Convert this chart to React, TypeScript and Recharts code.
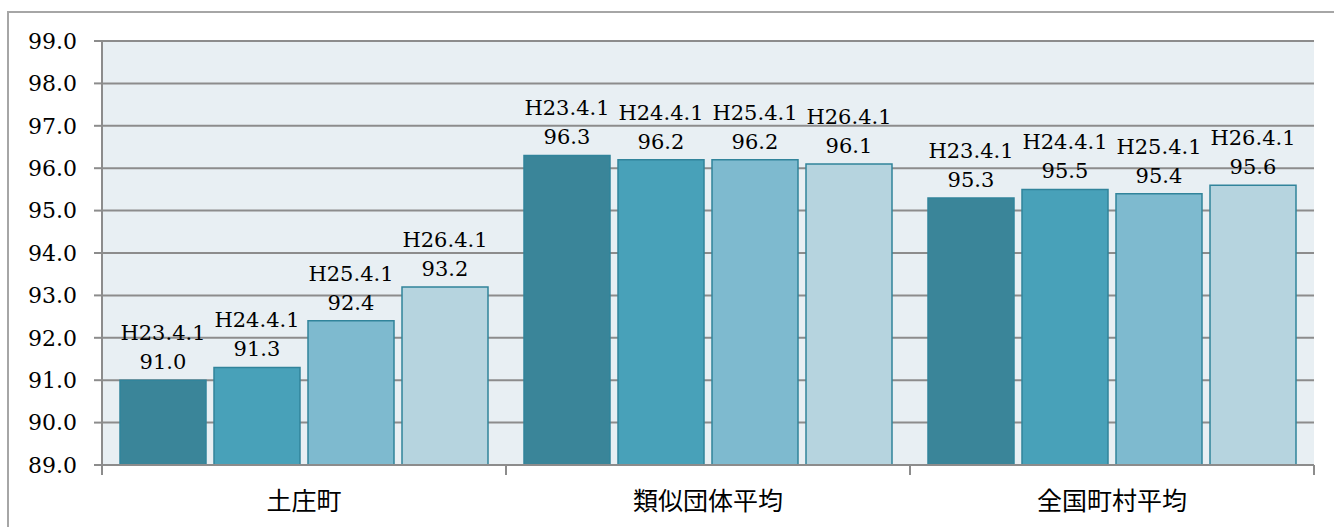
import React from 'react';
import { BarChart, Bar, XAxis, YAxis, CartesianGrid, LabelList } from 'recharts';

const categories = ['土庄町', '類似団体平均', '全国町村平均'];
const seriesNames = ['H23.4.1', 'H24.4.1', 'H25.4.1', 'H26.4.1'];
const h23 = [91.0, 96.3, 95.3];
const h24 = [91.3, 96.2, 95.5];
const h25 = [92.4, 96.2, 95.4];
const h26 = [93.2, 96.1, 95.6];
const yTicks = [89, 90, 91, 92, 93, 94, 95, 96, 97, 98, 99];

const colors = ['#3a8599', '#48a1b9', '#7ebacf', '#b6d4df'];
const serif = '"DejaVu Serif", serif';

const data = categories.map((name, i) => ({
  name,
  s0: h23[i],
  s1: h24[i],
  s2: h25[i],
  s3: h26[i],
}));

const W = 1334;
const H = 527;
const margin = { top: 41, right: 20, left: 22, bottom: 22 };
const yAxisWidth = 80;
const bandWidth = (W - margin.left - margin.right - yAxisWidth) / categories.length;

const makeLabel = (seriesName: string) => (props: any) => {
  const { x, y, width, value } = props;
  const cx = x + width / 2;
  return (
    <g>
      <text x={cx} y={y - 47} textAnchor="middle" dominantBaseline="central" fontFamily={serif} fontSize={21} fill="#000">
        {seriesName}
      </text>
      <text x={cx} y={y - 18} textAnchor="middle" dominantBaseline="central" fontFamily={serif} fontSize={21} fill="#000">
        {Number(value).toFixed(1)}
      </text>
    </g>
  );
};

const CategoryTick = (props: any) => {
  const { x, y, payload, index } = props;
  return (
    <g>
      {index === 0 && <line x1={x - bandWidth / 2} y1={y - 8} x2={x - bandWidth / 2} y2={y + 2} stroke="#8c8c8c" strokeWidth={2} />}
      <line x1={x + bandWidth / 2} y1={y - 8} x2={x + bandWidth / 2} y2={y + 2} stroke="#8c8c8c" strokeWidth={2} />
      <text x={x} y={y + 26} textAnchor="middle" dominantBaseline="central" fontFamily='"Noto Sans CJK JP", sans-serif' fontSize={25} fill="#000">
        {payload.value}
      </text>
    </g>
  );
};

const App: React.FC = () => {
  return (
    <div style={{ position: 'fixed', left: 0, top: 0, width: W, height: H, overflow: 'hidden', background: '#fff' }}>
      <div
        style={{
          position: 'absolute',
          left: 7,
          top: 11,
          width: 1400,
          height: 600,
          border: '2px solid #a6a6a6',
          boxSizing: 'border-box',
        }}
      />
      <div style={{ position: 'absolute', left: 0, top: 0 }}>
        <BarChart width={W} height={H} data={data} margin={margin} barCategoryGap={18} barGap={8}>
          <CartesianGrid vertical={false} stroke="#8c8c8c" strokeWidth={2} fill="#e8eff3" />
          <XAxis
            dataKey="name"
            height={40}
            tickLine={false}
            axisLine={{ stroke: '#8c8c8c', strokeWidth: 2 }}
            tick={<CategoryTick />}
            interval={0}
          />
          <YAxis
            width={yAxisWidth}
            domain={[89, 99]}
            ticks={yTicks}
            allowDataOverflow
            tickFormatter={(v: number) => v.toFixed(1)}
            tickSize={8}
            tickMargin={17}
            tickLine={{ stroke: '#8c8c8c', strokeWidth: 2 }}
            axisLine={{ stroke: '#8c8c8c', strokeWidth: 2 }}
            tick={{ fontFamily: serif, fontSize: 22, fill: '#000' }}
          />
          {seriesNames.map((s, i) => (
            <Bar key={s} dataKey={`s${i}`} name={s} fill={colors[i]} stroke="#31849b" strokeWidth={1.5} isAnimationActive={false}>
              <LabelList dataKey={`s${i}`} content={makeLabel(s)} />
            </Bar>
          ))}
        </BarChart>
      </div>
    </div>
  );
};

export default App;
